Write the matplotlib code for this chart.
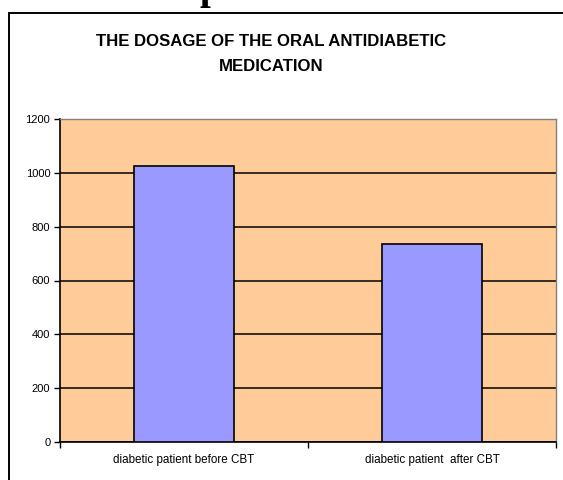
import matplotlib
matplotlib.use("Agg")
import matplotlib.pyplot as plt
from matplotlib.patches import Rectangle

categories = ["diabetic patient before CBT", "diabetic patient  after CBT"]
values = [1026, 735]
yticks = [0, 200, 400, 600, 800, 1000, 1200]
title = "THE DOSAGE OF THE ORAL ANTIDIABETIC\nMEDICATION"

fig = plt.figure(figsize=(5.63, 4.80), dpi=100)
fig.patch.set_facecolor("white")

# outer chart frame (extends beyond the image)
fig.patches.append(Rectangle((9/563, -0.1), 1.2, 1 - 13/480 + 0.1, transform=fig.transFigure,
                             fill=False, edgecolor="black", linewidth=1.4, zorder=0))
# clipped page text at very top
fig.text(200/563, 1 + 1.5/480, "p", fontsize=28, fontweight="bold", family="Liberation Serif",
         ha="left", va="baseline")

ax = fig.add_axes([60/563, 1 - 442/480, (556 - 60)/563, (442 - 119)/480])
ax.set_facecolor("#FFCC99")
x = list(range(len(categories)))
ax.bar(x, values, width=0.403, color="#9999FF", edgecolor="black", linewidth=1.2, zorder=3)
ax.set_xlim(-0.5, 1.5)
ax.set_ylim(0, 1200)
ax.set_yticks(yticks)
ax.set_yticklabels([str(v) for v in yticks], fontsize=8, family="Liberation Sans")
ax.yaxis.grid(True, color="black", linewidth=1.1, zorder=1)
ax.set_axisbelow(True)
ax.set_xticks(x)
ax.set_xticklabels(categories, fontsize=8.4, family="Liberation Sans")
ax.tick_params(axis="x", which="major", length=0, pad=9)
ax.set_xticks([-0.5, 0.5, 1.5], minor=True)
ax.tick_params(axis="x", which="minor", length=4, width=1, color="black", direction="out")
ax.tick_params(axis="y", length=4, width=1, direction="out", pad=3)
for s in ["top", "right"]:
    ax.spines[s].set_color("#808080")
    ax.spines[s].set_linewidth(1)
for s in ["left", "bottom"]:
    ax.spines[s].set_color("black")
    ax.spines[s].set_linewidth(1.2)

fig.text(271/563, 1 - 54/480, title, ha="center", va="center", fontsize=12.1,
         fontweight="bold", family="Liberation Sans", linespacing=1.85)

fig.savefig("out.png", dpi=100)
